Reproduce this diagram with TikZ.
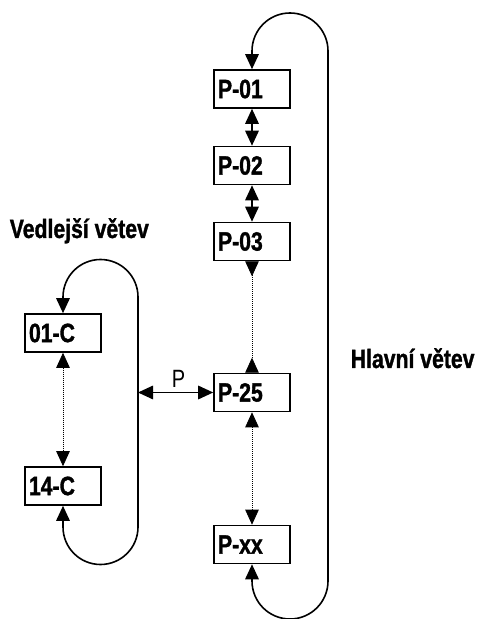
\documentclass[tikz,border=0pt]{standalone}
\usepackage{fontspec}
\setmainfont{Liberation Sans}[FakeStretch=0.8,BoldFeatures={FakeBold=1.2}]
\usetikzlibrary{arrows.meta}
\begin{document}
\begin{tikzpicture}[x=1pt,y=1pt,line width=1.6pt,
  bt/.tip={Triangle[length=15pt,width=13.5pt]},
  rt/.tip={Triangle[length=15pt,width=13.5pt,reversed]},
  box/.style={draw,line width=1.6pt,minimum height=38pt,text width=68pt,
    inner xsep=4pt,inner ysep=0pt,align=left,
    font=\fontsize{26.5}{30}\selectfont\bfseries},
  lbl/.style={anchor=base west,inner sep=0pt,font=\fontsize{26.5}{30}\selectfont\bfseries},
  dotline/.style={line width=0.8pt,dash pattern=on 0.8pt off 1.2pt}]
\useasboundingbox (0,0) rectangle (478,619);
% main branch
\node[box] (p01) at (252,530) {P-01};
\node[box] (p02) at (252,453.5) {P-02};
\node[box] (p03) at (252,377.5) {P-03};
\node[box] (p25) at (252,226.5) {P-25};
\node[box] (pxx) at (252,74.5) {P-xx};
% side branch
\node[box] (c01) at (63,286) {01-C};
\node[box] (c14) at (63,133) {14-C};
% labels
\node[lbl] (vv) at (9,381) {Vedlejší větev};
\node[lbl] (hv) at (350,251) {Hlavní větev};
% connectors
\draw[bt-bt] (p01.south) -- (p02.north);
\draw[bt-bt] (p02.south) -- (p03.north);
\draw[dotline,rt-rt] (p03.south) -- (p25.north);
\draw[dotline,bt-bt] (p25.south) -- (pxx.north);
\draw[dotline,bt-bt] (c01.south) -- (c14.north);
\draw[bt-bt] (pxx.south) -- (pxx.south |- 0,38)
  arc[start angle=180,end angle=360,radius=38] -- (328,568)
  arc[start angle=0,end angle=180,radius=38] -- (p01.north);
\draw[bt-bt] (c14.south) -- (c14.south |- 0,92)
  arc[start angle=180,end angle=360,radius=37.5] -- (138,322)
  arc[start angle=0,end angle=180,radius=37.5] -- (c01.north);
\coordinate (pj) at (138,226.5);
\draw[bt-bt] (pj) -- (p25.west);
\node[anchor=base,inner sep=0pt,font=\fontsize{25}{30}\selectfont] (plab) at (178.5,231) {P};
\end{tikzpicture}
\end{document}
